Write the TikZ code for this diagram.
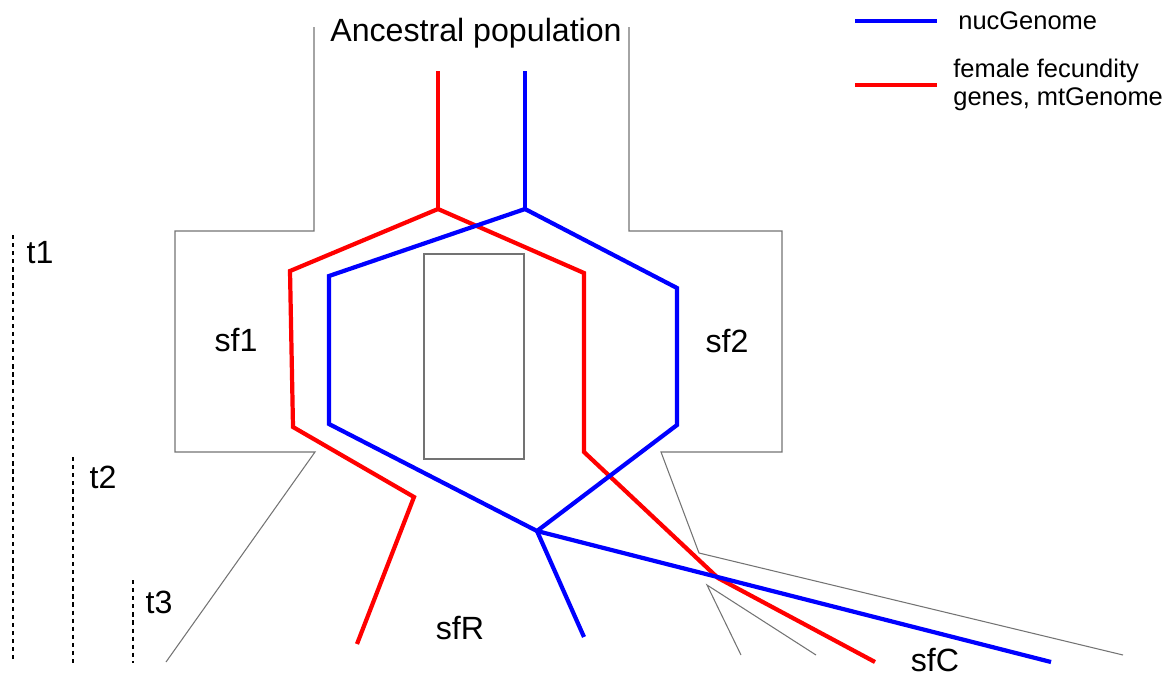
\documentclass[tikz,border=0pt]{standalone}
\usepackage{fontspec}
\setmainfont{Liberation Sans}
\usetikzlibrary{positioning}

\begin{document}
\begin{tikzpicture}
[x=0.02cm, y=-0.02cm,
   popB/.style={draw=black!55, line width=0.6pt},
   nucG/.style={draw=blue, line width=2.4pt},
   mtG/.style={draw=red, line width=2.4pt},
   tAxis/.style={draw, line width=1.3pt, dash pattern=on 2.4pt off 2.2pt},
   lbl/.style={inner sep=0pt, font=\fontsize{18.3}{21}\selectfont},
   leg/.style={inner sep=0pt, align=left, font=\fontsize{14.5}{16}\selectfont}]
\useasboundingbox (0,0) rectangle (1170,677);
%% population outline
\draw [popB] (314,27) -- (314,231) -- (175,231) -- (175,452) -- (315,452) -- (166,662);
\draw [popB] (629,27) -- (629,231) -- (782,231) -- (782,452) -- (661,452) -- (699,553) -- (1123,655);
\draw [popB] (741,655) -- (707,585) -- (816,655);
\draw [popB] (424,254) rectangle (524,459);
\node[lbl] (Anc) at (476,33) {Ancestral population};
\node[lbl] (SF1) at (236,340) {sf1};
\node[lbl] (SF2) at (727,341) {sf2};
\node[lbl] (SFR) at (460,628) {sfR};
\node[lbl] (SFC) at (935,660) {sfC};
%% mtGenome lineages
\coordinate (mtTop) at (438,71);
\coordinate (mtFork) at (438,209);
\coordinate (mtEndR) at (357,644);
\coordinate (mtEndC) at (875,662);
\draw [mtG] (mtTop) -- (mtFork);
\draw [mtG] (mtFork) -- (290,271) -- (293,427) -- (414,497) -- (mtEndR);
\draw [mtG] (mtFork) -- (584,273) -- (584,452) -- (718,578) -- (mtEndC);
%% nucGenome lineages
\coordinate (nucTop) at (525,71);
\coordinate (nucFork) at (525,209);
\coordinate (nucMix) at (537,531);
\coordinate (nucEndR) at (584,637);
\coordinate (nucEndC) at (1051,662);
\draw [nucG] (nucTop) -- (nucFork);
\draw [nucG] (nucFork) -- (329,276) -- (329,424) -- (nucMix);
\draw [nucG] (nucFork) -- (677,288) -- (677,425) -- (nucMix);
\draw [nucG] (nucMix) -- (nucEndR);
\draw [nucG] (nucMix) -- (nucEndC);
%% time axes
\coordinate (t1a) at (13,235);
\coordinate (t1b) at (13,663);
\coordinate (t2a) at (73,457);
\coordinate (t2b) at (73,663);
\coordinate (t3a) at (133,580);
\coordinate (t3b) at (133,663);
\draw [tAxis] (t1a) -- (t1b);
\draw [tAxis] (t2a) -- (t2b);
\draw [tAxis] (t3a) -- (t3b);
\node[lbl] (T1) at (40,253) {t1};
\node[lbl] (T2) at (103,477) {t2};
\node[lbl] (T3) at (159,602) {t3};
%% legend
\coordinate (nucA) at (855,21);
\coordinate (nucB) at (937,21);
\draw [nucG, line width=2pt] (nucA) to (nucB);
\node[leg, anchor=west] (NucLeg) [right=0.42cm of nucB] {nucGenome};
\coordinate (mtA) at (855,85);
\coordinate (mtB) at (937,85);
\draw [mtG, line width=2pt] (mtA) to (mtB);
\node[leg, anchor=west] (MtLeg) [right=0.32cm of mtB] {female fecundity\\genes, mtGenome};
\end{tikzpicture}
\end{document}
